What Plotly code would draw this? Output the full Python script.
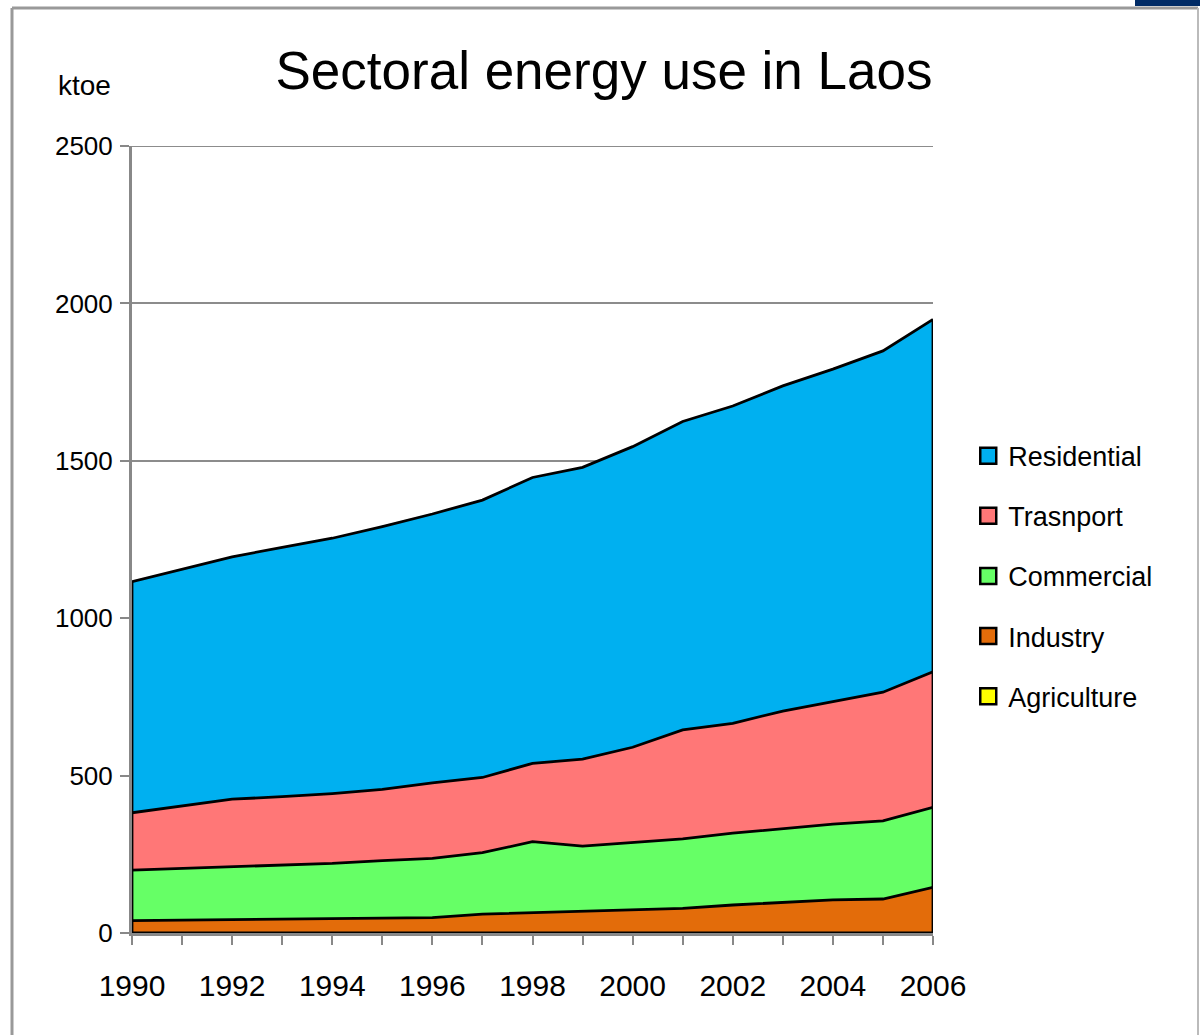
import plotly.graph_objects as go

years = list(range(1990, 2007))
agriculture = [0] * 17
industry = [39, 41, 43, 43, 45, 47, 49, 60, 64, 68, 73, 78, 89, 98, 105, 108, 145]
commercial = [161, 164, 168, 172, 176, 183, 188, 195, 226, 208, 215, 221, 228, 234, 241, 248, 254]
transport = [182, 198, 214, 218, 222, 226, 240, 239, 249, 276, 302, 346, 349, 373, 388, 409, 431]
residential = [734, 752, 770, 792, 811, 835, 854, 881, 908, 927, 955, 980, 1008, 1033, 1057, 1084, 1119]

series = [
    ("Agriculture", agriculture, "#FFFF00"),
    ("Industry", industry, "#E36C0A"),
    ("Commercial", commercial, "#66FF66"),
    ("Trasnport", transport, "#FF7777"),
    ("Residential", residential, "#00B0F0"),
]

FONT = "Liberation Sans, Arial, sans-serif"

fig = go.Figure()
for name, vals, col in series:
    fig.add_trace(go.Scatter(
        x=years, y=vals, name=name, stackgroup="one", mode="lines",
        line=dict(color="black", width=2.8), fillcolor=col, showlegend=False,
        hoverinfo="x+y+name"))

totals = [sum(v) for v in zip(*[s[1] for s in series])]
for idx in (0, -1):
    fig.add_trace(go.Scatter(x=[years[idx], years[idx]], y=[0, totals[idx]], mode="lines",
                             line=dict(color="black", width=2.8), showlegend=False, hoverinfo="skip"))

# legend entries (top to bottom)
for name, vals, col in reversed(series):
    fig.add_trace(go.Scatter(
        x=[None], y=[None], mode="markers", name=name, legendgroup=name,
        marker=dict(symbol="square", size=17, color=col, line=dict(color="black", width=2.5))))

tickvals = years
ticktext = [str(y) if y % 2 == 0 else "" for y in years]

fig.update_layout(
    width=1200, height=1035,
    margin=dict(l=132, r=267, t=146, b=102),
    paper_bgcolor="white", plot_bgcolor="white",
    font=dict(family=FONT, color="black"),
    title=dict(text="Sectoral energy use in Laos", x=604 / 1200, xanchor="center",
               y=1 - 70 / 1035, yanchor="middle",
               font=dict(size=53, family=FONT, color="black")),
    showlegend=True,
    legend=dict(x=1.044, xanchor="left", y=0.637, yanchor="top",
                traceorder="grouped", tracegroupgap=22,
                font=dict(size=27, family=FONT, color="black"),
                itemwidth=30, bgcolor="rgba(0,0,0,0)"),
    xaxis=dict(range=[1990, 2006], tickvals=tickvals, ticktext=ticktext,
               ticks="outside", ticklen=9, tickwidth=2, tickcolor="#888888",
               showline=True, linecolor="#888888", linewidth=3, showgrid=False,
               zeroline=False, tickfont=dict(size=30, family=FONT),
               ticklabelstandoff=15, automargin=False),
    yaxis=dict(range=[0, 2500], dtick=500, ticks="outside", ticklen=9, tickwidth=2,
               tickcolor="#888888", showline=True, linecolor="#888888", linewidth=3,
               showgrid=True, gridcolor="#8C8C8C", gridwidth=2, zeroline=False,
               tickfont=dict(size=26, family=FONT), ticklabelstandoff=2,
               automargin=False),
)

# top gridline at the axis maximum
fig.add_shape(type="line", xref="paper", yref="y", x0=0, x1=1, y0=2500, y1=2500,
              line=dict(color="#8C8C8C", width=2), layer="below")

pw, ph = 801, 787
def px_to_paper(px, py):
    return (px - 132) / pw, (933 - py) / ph

kx, ky = px_to_paper(84, 85)
fig.add_annotation(text="ktoe", xref="paper", yref="paper", x=kx, y=ky,
                   xanchor="center", yanchor="middle", showarrow=False,
                   font=dict(size=28, family=FONT, color="black"))

# frame and corner block
x0, y0 = px_to_paper(12, 8)
x1, y1 = px_to_paper(1198, 1040)
fig.add_shape(type="line", xref="paper", yref="paper", x0=x0, y0=y0, x1=x1, y1=y0,
              line=dict(color="#999999", width=3))
fig.add_shape(type="line", xref="paper", yref="paper", x0=x0, y0=y0, x1=x0, y1=y1,
              line=dict(color="#999999", width=3))
fig.add_shape(type="line", xref="paper", yref="paper", x0=x1, y0=y0, x1=x1, y1=y1,
              line=dict(color="#BBBBBB", width=2))
bx0, by0 = px_to_paper(1135, 0)
bx1, by1 = px_to_paper(1200, 6)
fig.add_shape(type="rect", xref="paper", yref="paper", x0=bx0, y0=by1, x1=bx1, y1=by0,
              fillcolor="#002B66", line=dict(width=0))

fig.write_html("out.html", config={"displayModeBar": False},
               post_script="document.body.style.margin='0';document.body.style.overflow='hidden';")
